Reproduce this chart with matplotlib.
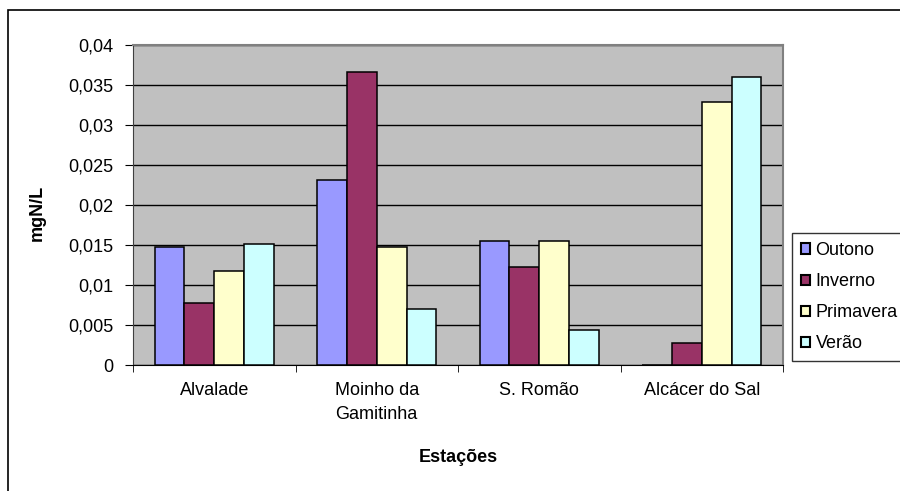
import matplotlib
matplotlib.use("Agg")
import matplotlib.pyplot as plt
import numpy as np
from matplotlib.patches import Rectangle

plt.rcParams['font.family'] = ['Liberation Sans', 'DejaVu Sans']

estacoes = ['Alvalade', 'Moinho da\nGamitinha', 'S. Romão', 'Alcácer do Sal']
series = ['Outono', 'Inverno', 'Primavera', 'Verão']
outono = [0.0147, 0.0231, 0.0155, 0.0]
inverno = [0.0078, 0.0366, 0.0122, 0.0028]
primavera = [0.0118, 0.0147, 0.0155, 0.0329]
verao = [0.0151, 0.0070, 0.0044, 0.0360]
cores = ['#9999FF', '#993366', '#FFFFCC', '#CCFFFF']

fs = 13

fig = plt.figure(figsize=(9, 4.91), dpi=100)
ax = fig.add_axes([133 / 900, 1 - 365 / 491, 650 / 900, 320 / 491])
ax.set_facecolor('#C0C0C0')

# borda exterior do grafico
fig.patches.append(Rectangle((8 / 900, -0.05), 1.1, 1.05 - 10 / 491, transform=fig.transFigure,
                             fill=False, edgecolor='black', linewidth=1.2))

x = np.arange(len(estacoes))
w = 0.1836
for i, (vals, nome) in enumerate(zip([outono, inverno, primavera, verao], series)):
    ax.bar(x + (i - 1.5) * w, vals, w, color=cores[i], edgecolor='black',
           linewidth=1.1, label=nome, zorder=3)

ax.set_xlim(-0.5, 3.5)
ax.set_ylim(0, 0.04)
yt = np.arange(0, 0.0401, 0.005)
ax.set_yticks(yt)
ax.set_yticklabels(['0' if v == 0 else ('%g' % round(v, 3)).replace('.', ',') for v in yt])
ax.yaxis.grid(True, color='black', linewidth=1, zorder=0)
ax.set_axisbelow(True)

ax.set_xticks(x)
ax.set_xticklabels(estacoes, fontsize=fs, linespacing=1.6)
ax.set_xticks(np.arange(-0.5, 3.6, 1), minor=True)
ax.tick_params(axis='x', which='major', length=0, pad=12)
ax.tick_params(axis='x', which='minor', length=5, direction='out')
ax.tick_params(axis='y', labelsize=fs, length=6, direction='out', pad=8)

for s in ['top', 'right']:
    ax.spines[s].set_color('#808080')
    ax.spines[s].set_linewidth(1.5)
ax.spines['left'].set_color('#404040')
ax.spines['bottom'].set_color('black')

ax.set_ylabel('mgN/L', fontsize=fs, fontweight='bold', va='center')
ax.yaxis.set_label_coords(-0.148, 0.475)
ax.set_xlabel('Estações', fontsize=fs, fontweight='bold', va='center')
ax.xaxis.set_label_coords(0.5, -0.29)

leg = ax.legend(loc='upper left', bbox_to_anchor=(1.014, 0.4125), frameon=True,
                fancybox=False, edgecolor='black', fontsize=fs,
                handlelength=0.5, handleheight=0.5, handletextpad=0.3,
                labelspacing=0.78, borderpad=0.5, borderaxespad=0)
leg.get_frame().set_linewidth(1)
for h in leg.legend_handles:
    h.set_linewidth(1.5)

fig.savefig('out.png', dpi=100)
